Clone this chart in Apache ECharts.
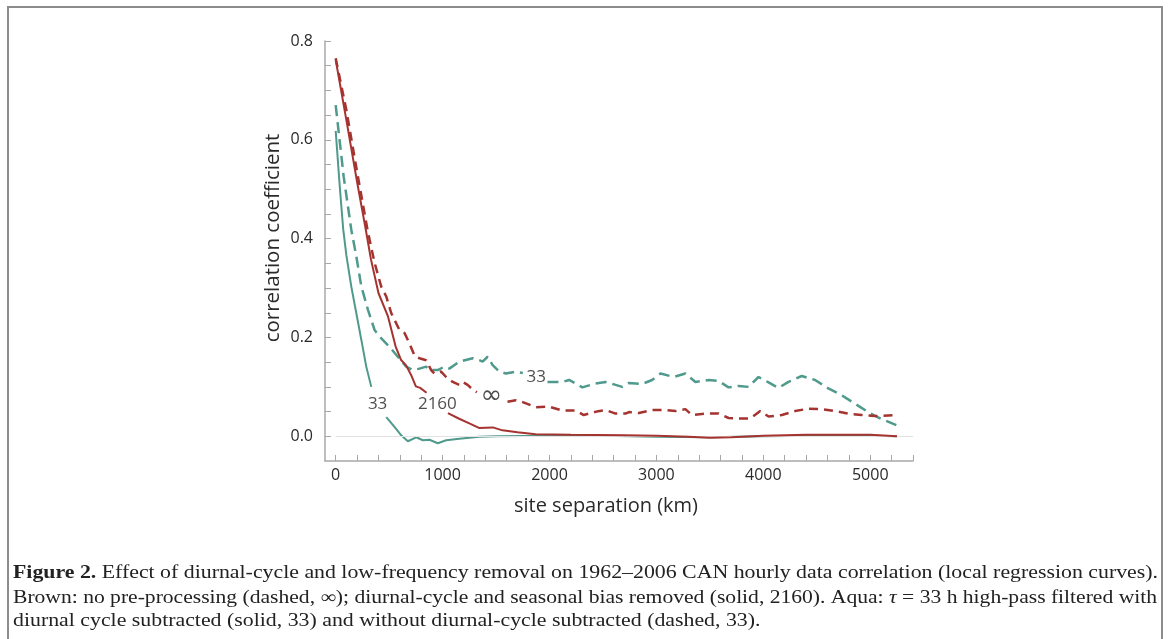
<!DOCTYPE html>
<html><head><meta charset="utf-8">
<script src="https://cdn.jsdelivr.net/npm/echarts@6/dist/echarts.min.js"></script>
<style>html,body{margin:0;padding:0;background:#fff}#c{width:1171px;height:639px}</style>
</head><body><div id="c"></div>
<script>
// ---- data (km, correlation coefficient); null = line interrupted behind a label ----
const aquaSolidKm = [0,40,70,100,146,193,240,286,333,400,473,550,613,675,753,815,877,955,1033,1157,1343,1500,2000,2500,3000,3500,4000,4500,5000,5250];
const aquaSolidR  = [0.618,0.50,0.42,0.366,0.303,0.249,0.195,0.141,0.100,null,0.039,0.019,0.002,-0.010,-0.002,-0.008,-0.007,-0.014,-0.008,-0.005,-0.001,0.0,0.001,0.001,-0.001,-0.002,0.0,0.001,0.001,0.0];

const aquaDashKm = [0,75,146,193,240,302,364,410,504,581,659,721,784,846,877,955,1017,1063,1157,1281,1343,1374,1421,1468,1530,1592,1685,1750,1870,1981,2120,2183,2245,2307,2432,2525,2618,2680,2743,2867,2960,3038,3162,3271,3365,3489,3582,3675,3769,3862,3955,4049,4142,4235,4359,4484,4608,4733,4857,4981,5075,5250];
const aquaDashR  = [0.670,0.525,0.418,0.364,0.303,0.256,0.215,0.202,0.181,0.161,0.141,0.134,0.137,0.141,0.134,0.134,0.141,0.137,0.151,0.158,0.154,0.151,0.161,0.144,0.131,0.127,0.131,0.128,null,0.110,0.110,0.114,0.107,0.099,0.107,0.110,0.104,0.100,0.108,0.106,0.114,0.127,0.120,0.127,0.110,0.114,0.112,0.099,0.102,0.100,0.120,0.109,0.098,0.110,0.122,0.114,0.097,0.083,0.066,0.049,0.038,0.022];

const brownDashKm = [0,100,200,300,364,426,473,520,597,644,690,740,784,846,893,923,986,1033,1095,1157,1188,1234,1280,1320,1450,1607,1685,1716,1872,1996,2120,2245,2320,2440,2525,2618,2711,2743,2836,2960,3085,3178,3271,3333,3458,3582,3675,3769,3878,3971,4049,4173,4297,4422,4546,4670,4795,4919,5044,5250];
const brownDashR  = [0.765,0.66,0.535,0.415,0.351,0.303,0.283,0.249,0.215,0.209,0.188,0.162,0.158,0.154,0.134,0.127,0.131,0.120,0.110,0.104,0.110,0.104,0.095,0.089,null,0.070,0.073,0.072,0.059,0.060,0.052,0.052,0.043,0.050,0.053,0.046,0.046,0.049,0.047,0.053,0.053,0.051,0.055,0.043,0.046,0.046,0.037,0.036,0.036,0.051,0.040,0.043,0.051,0.056,0.055,0.051,0.046,0.043,0.041,0.043];

const brownSolidKm = [0,100,200,280,330,400,490,560,610,660,710,750,790,850,950,1050,1150,1250,1340,1470,1560,1700,1870,2200,2700,3000,3300,3500,3700,4000,4400,4800,5000,5250];
const brownSolidR  = [0.762,0.64,0.515,0.42,0.358,0.29,0.242,0.182,0.155,0.143,0.122,0.101,0.098,0.088,null,0.047,0.036,0.026,0.017,0.018,0.012,0.008,0.004,0.003,0.002,0.001,-0.001,-0.003,-0.002,0.001,0.003,0.003,0.003,0.0];

const labelKm   = [392, 951, 1455, 1875];
const labelR    = [0.065, 0.065, 0.081, 0.120];
const labelText = ['33', '2160', '\u221E', '33'];

const xLabelValues = [0,1000,2000,3000,4000,5000];
const xTickValues  = [0,200,400,600,800,1000,1200,1400,1600,1800,2000,2200,2400,2600,2800,3000,3200,3400,3600,3800,4000,4200,4400,4600,4800,5000,5200,5400];
const yLabelValues = [0,0.2,0.4,0.6,0.8];
const yTickValues  = [0,0.05,0.1,0.15,0.2,0.25,0.3,0.35,0.4,0.45,0.5,0.55,0.6,0.65,0.7,0.75,0.8];

const captionLines = [
  '{b|Figure 2.} Effect of diurnal-cycle and low-frequency removal on 1962\u20132006 CAN hourly data correlation (local regression curves).',
  'Brown: no pre-processing (dashed, \u221E); diurnal-cycle and seasonal bias removed (solid, 2160). Aqua: {i|\u03C4} = 33 h high-pass filtered with',
  'diurnal cycle subtracted (solid, 33) and without diurnal-cycle subtracted (dashed, 33).'
];

// ---- styles ----
const BROWN = '#a5332f', AQUA = '#4f9a8c';
const capFont = '"Liberation Serif", serif', capSize = 18;

function pairs(xs, ys){ return xs.map((x,i)=> ys[i]===null ? [x,'-'] : [x, ys[i]]); }

// measure caption widths to fit the justified block width
const cv = document.createElement('canvas').getContext('2d');
function measure(line){
  let w = 0;
  const re = /\{(\w)\|([^}]*)\}|([^{]+)/g; let m;
  while ((m = re.exec(line))){
    if (m[1]==='b'){ cv.font = 'bold '+capSize+'px '+capFont; w += cv.measureText(m[2]).width; }
    else if (m[1]==='i'){ cv.font = 'italic '+capSize+'px '+capFont; w += cv.measureText(m[2]).width; }
    else { cv.font = capSize+'px '+capFont; w += cv.measureText(m[3]).width; }
  }
  return w;
}
const s1 = 1145 / measure(captionLines[0]);
const s2 = 1144 / measure(captionLines[1]);
const capScales = [s1, s2, s1];
const capY = [573, 598, 621];

const chart = echarts.init(document.getElementById('c'));
const lineBase = {type:'line', showSymbol:false, symbol:'none', connectNulls:false, animation:false, smooth:false};
const tickFont = {color:'#2a2a2a', fontSize:16, fontFamily:'"Open Sans"'};
chart.setOption({
  animation:false,
  backgroundColor:'#fff',
  grid:{left:325, right:258, top:41, bottom:178, containLabel:false},
  xAxis:{
    type:'value', min:-100, max:5400,
    axisLine:{show:true, onZero:false, lineStyle:{color:'#a8a8a8', width:1.5}},
    axisTick:{show:true, inside:true, length:6, customValues:xTickValues, lineStyle:{color:'#a8a8a8'}},
    axisLabel:Object.assign({customValues:xLabelValues, margin:6, formatter:v=>String(v)}, tickFont),
    splitLine:{show:false}
  },
  yAxis:{
    type:'value', min:-0.05, max:0.8,
    axisLine:{show:true, onZero:false, lineStyle:{color:'#a8a8a8', width:1.5}},
    axisTick:{show:true, inside:true, length:6, customValues:yTickValues, lineStyle:{color:'#a8a8a8'}},
    axisLabel:Object.assign({customValues:yLabelValues, margin:12, formatter:v=>v.toFixed(1)}, tickFont),
    splitLine:{show:false}
  },
  series:[
    Object.assign({}, lineBase, {name:'aqua solid', data:pairs(aquaSolidKm, aquaSolidR), lineStyle:{color:AQUA, width:2},
      markLine:{silent:true, symbol:'none', label:{show:false}, lineStyle:{color:'#e2e2e2', width:1, type:'solid'},
        data:[[{coord:[0,0]},{coord:[5400,0]}]]}, z:2}),
    Object.assign({}, lineBase, {name:'aqua dashed', data:pairs(aquaDashKm, aquaDashR), lineStyle:{color:AQUA, width:2.5, type:[11,6]}, z:3}),
    Object.assign({}, lineBase, {name:'brown dashed', data:pairs(brownDashKm, brownDashR), lineStyle:{color:BROWN, width:2.5, type:[9,6]}, z:4}),
    Object.assign({}, lineBase, {name:'brown solid', data:pairs(brownSolidKm, brownSolidR), lineStyle:{color:BROWN, width:2}, z:5}),
    {type:'scatter', symbolSize:0, z:10, animation:false,
      data:labelKm.map((x,i)=>({value:[x,labelR[i]],
        label:{show:true, position:'inside', formatter:labelText[i], color:'#222',
          fontFamily: labelText[i]==='\u221E' ? '"DejaVu Sans"' : '"Open Sans"',
          fontSize: labelText[i]==='\u221E' ? 26 : 17}}))}
  ],
  graphic:[
    {type:'rect', silent:true, z:-10, shape:{x:8, y:7, width:1154, height:700}, style:{fill:'none', stroke:'#8c8c8c', lineWidth:2}},
    {type:'text', x:606, y:506, style:{text:'site separation (km)', fontSize:20, fontFamily:'"Open Sans"', fill:'#2a2a2a', align:'center', verticalAlign:'middle'}},
    {type:'text', x:273, y:238, rotation:Math.PI/2, style:{text:'correlation coefficient', fontSize:20.5, fontFamily:'"Open Sans"', fill:'#2a2a2a', align:'center', verticalAlign:'middle'}}
  ].concat(captionLines.map((t,i)=>({
    type:'text', x:13, y:capY[i], scaleX:capScales[i],
    style:{text:t, fontSize:capSize, fontFamily:capFont, fill:'#222', align:'left', verticalAlign:'middle',
      rich:{b:{fontWeight:'bold', fontSize:capSize, fontFamily:capFont, fill:'#222'},
            i:{fontStyle:'italic', fontSize:capSize, fontFamily:capFont, fill:'#222'}}}
  })))
});
</script></body></html>
